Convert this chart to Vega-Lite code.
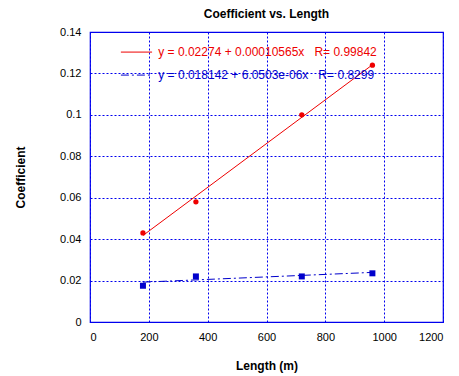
{
  "$schema": "https://vega.github.io/schema/vega-lite/v6.json",
  "width": 353,
  "height": 290,
  "autosize": "none",
  "padding": {"left": 90, "top": 32, "right": 16, "bottom": 54},
  "background": "white",
  "title": {"text": "Coefficient vs. Length", "font": "Liberation Sans", "fontSize": 12, "fontWeight": "bold", "color": "black", "offset": 5},
  "config": {
    "view": {"stroke": "#0000ee", "strokeWidth": 1.2},
    "axis": {"labelFont": "Liberation Sans", "labelFontSize": 11, "labelColor": "black", "titleFont": "Liberation Sans", "titleFontSize": 12, "titleFontWeight": "bold", "titleColor": "black", "gridColor": "#0000ee", "gridDash": [2, 2], "gridOpacity": 1, "gridWidth": 1, "domain": false, "ticks": false}
  },
  "datasets": {
    "pts": [
      {"len": 180, "coef": 0.043, "s": "A"},
      {"len": 360, "coef": 0.058, "s": "A"},
      {"len": 720, "coef": 0.100, "s": "A"},
      {"len": 960, "coef": 0.124, "s": "A"},
      {"len": 180, "coef": 0.0175, "s": "B"},
      {"len": 360, "coef": 0.022, "s": "B"},
      {"len": 720, "coef": 0.022, "s": "B"},
      {"len": 960, "coef": 0.0235, "s": "B"}
    ],
    "fitA": [
      {"len": 180, "coef": 0.04176},
      {"len": 960, "coef": 0.12416}
    ],
    "fitB": [
      {"len": 180, "coef": 0.01923},
      {"len": 960, "coef": 0.02395}
    ],
    "legA": [
      {"len": 105, "coef": 0.1303},
      {"len": 211, "coef": 0.1303}
    ],
    "legB": [
      {"len": 105, "coef": 0.1192},
      {"len": 211, "coef": 0.1192}
    ],
    "legText": [
      {"len": 232, "coef": 0.1303, "label": "y = 0.02274 + 0.00010565x\u00a0\u00a0\u00a0R= 0.99842", "s": "A"},
      {"len": 232, "coef": 0.1192, "label": "y = 0.018142 + 6.0503e-06x\u00a0\u00a0\u00a0R= 0.8299", "s": "B"}
    ]
  },
  "encoding": {
    "x": {"field": "len", "type": "quantitative", "scale": {"domain": [0, 1200], "nice": false}, "axis": {"title": "Length (m)", "values": [0, 200, 400, 600, 800, 1000, 1200], "format": "d", "labelPadding": 9, "titlePadding": 18}},
    "y": {"field": "coef", "type": "quantitative", "scale": {"domain": [0, 0.14], "nice": false}, "axis": {"title": "Coefficient", "values": [0, 0.02, 0.04, 0.06, 0.08, 0.1, 0.12, 0.14], "labelExpr": "'' + datum.value", "labelPadding": 9, "titlePadding": 32}}
  },
  "layer": [
    {"data": {"name": "fitA"}, "mark": {"type": "line", "color": "#ee0000", "strokeWidth": 1}},
    {"data": {"name": "fitB"}, "mark": {"type": "line", "color": "#0000cc", "strokeWidth": 1, "strokeDash": [8, 3, 2, 3]}},
    {"data": {"name": "legA"}, "mark": {"type": "line", "color": "#ee0000", "strokeWidth": 1}},
    {"data": {"name": "legB"}, "mark": {"type": "line", "color": "#0000cc", "strokeWidth": 1, "strokeDash": [8, 3, 2, 3]}},
    {"data": {"name": "pts"}, "transform": [{"filter": "datum.s == 'A'"}], "mark": {"type": "point", "shape": "circle", "filled": true, "color": "#ee0000", "size": 28, "opacity": 1}},
    {"data": {"name": "pts"}, "transform": [{"filter": "datum.s == 'B'"}], "mark": {"type": "point", "shape": "square", "filled": true, "color": "#0000cc", "size": 36, "opacity": 1}},
    {"data": {"name": "legText"}, "mark": {"type": "text", "align": "left", "baseline": "middle", "font": "Liberation Sans", "fontSize": 12}, "encoding": {"text": {"field": "label"}, "color": {"field": "s", "type": "nominal", "scale": {"domain": ["A", "B"], "range": ["#ee0000", "#0000cc"]}, "legend": null}}}
  ]
}
